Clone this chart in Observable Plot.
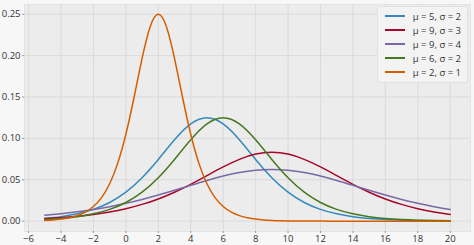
<!DOCTYPE html>
<html><head><meta charset="utf-8">
<script src="https://cdn.jsdelivr.net/npm/d3@7"></script>
<script src="https://cdn.jsdelivr.net/npm/@observablehq/plot@0.6"></script>
<style>
body{margin:0;background:#f7f7f7;font-family:"Open Sans","Noto Sans",sans-serif;}
#wrap{position:relative;width:474px;height:245px;}
#legend{position:absolute;right:6px;top:6px;background:#f3f3f3;border:1px solid #e2e2e2;border-radius:2px;padding:2px 6px 3px 7px;font-size:9.5px;color:#333;}
#legend .row{display:flex;align-items:center;height:14px;}
#legend .sw{flex:none;display:block;width:20px;height:2px;margin-right:8px;}
</style></head>
<body><div id="wrap"><div id="legend"></div></div>
<script>
const xInt = [-5,-4,-3,-2,-1,0,1,2,3,4,5,6,7,8,9,10,11,12,13,14,15,16,17,18,19,20];
const xOrange = [-5,-4.5,-4,-3.5,-3,-2.5,-2,-1.5,-1,-0.5,0,0.5,1,1.5,2,2.5,3,3.5,4,4.5,5,5.5,6,6.5,7,7.5,8,8.5,9,9.5,10,10.5,11,11.5,12,13,14,15,16,17,18,19,20];
const labels = ["μ = 5, σ = 2","μ = 9, σ = 3","μ = 9, σ = 4","μ = 6, σ = 2","μ = 2, σ = 1"];
const colors = ["#348ABD","#A60628","#7A68A6","#467821","#D55E00"];
const blue = [0.003324,0.005433,0.008832,0.014227,0.022589,0.035052,0.052497,0.074573,0.098306,0.117502,0.125,0.117502,0.098306,0.074573,0.052497,0.035052,0.022589,0.014227,0.008832,0.005433,0.003324,0.002027,0.001234,0.000750,0.000455,0.000277];
const red = [0.003076,0.004262,0.005888,0.008101,0.011086,0.015059,0.020249,0.026862,0.034998,0.044543,0.055031,0.065537,0.074720,0.081061,0.083333,0.081061,0.074720,0.065537,0.055031,0.044543,0.034998,0.026862,0.020249,0.015059,0.011086,0.008101];
const purple = [0.007113,0.008984,0.011294,0.014119,0.017526,0.021565,0.026249,0.031533,0.037287,0.043276,0.049153,0.054474,0.058751,0.061534,0.0625,0.061534,0.058751,0.054474,0.049153,0.043276,0.037287,0.031533,0.026249,0.021565,0.017526,0.014119];
const green = [0.002027,0.003324,0.005433,0.008832,0.014227,0.022589,0.035052,0.052497,0.074573,0.098306,0.117502,0.125,0.117502,0.098306,0.074573,0.052497,0.035052,0.022589,0.014227,0.008832,0.005433,0.003324,0.002027,0.001234,0.000750,0.000455];
const orange = [0.000910,0.001499,0.002467,0.004054,0.006648,0.010866,0.017663,0.028453,0.045177,0.070104,0.104994,0.149146,0.196612,0.235004,0.25,0.235004,0.196612,0.149146,0.104994,0.070104,0.045177,0.028453,0.017663,0.010866,0.006648,0.004054,0.002467,0.001499,0.000910,0.000553,0.000335,0.000203,0.000123,0.000075,0.000045,0.000017,0.000006,0.000002,0.000001,0,0,0,0];
const xTicks = [-6,-4,-2,0,2,4,6,8,10,12,14,16,18,20];
const yTicks = [0,0.05,0.10,0.15,0.20,0.25];

const seriesY = [blue, red, purple, green, orange];
const seriesX = [xInt, xInt, xInt, xInt, xOrange];
const data = [];
seriesY.forEach((ys, i) => ys.forEach((y, j) => data.push({x: seriesX[i][j], y, s: labels[i]})));

const chart = Plot.plot({
  width: 474, height: 245,
  marginLeft: 24, marginRight: 4, marginTop: 4, marginBottom: 14,
  style: {background: "transparent", fontFamily: "'Open Sans','Noto Sans',sans-serif", fontSize: "9.5px", color: "#333"},
  x: {domain: [-6.25, 21.25], ticks: xTicks, tickSize: 2, tickPadding: 2, label: null},
  y: {domain: [-0.0125, 0.2618], ticks: yTicks, tickFormat: d3.format(".2f"), tickSize: 2, tickPadding: 2, label: null},
  color: {domain: labels, range: colors},
  marks: [
    Plot.frame({fill: "#ececec", stroke: "#e4e4e4"}),
    Plot.gridX(xTicks, {stroke: "#d6d6d6", strokeOpacity: 1, strokeWidth: 0.8}),
    Plot.gridY(yTicks, {stroke: "#d6d6d6", strokeOpacity: 1, strokeWidth: 0.8}),
    Plot.axisX(xTicks, {tickSize: 2, stroke: "#999", tickPadding: 2, fill: "#333"}),
    Plot.axisY(yTicks, {tickSize: 2, stroke: "#999", tickPadding: 2, tickFormat: d3.format(".2f"), fill: "#333"}),
    Plot.line(data, {x: "x", y: "y", z: "s", stroke: "s", strokeWidth: 1.5, curve: "natural"})
  ]
});
const wrap = document.getElementById("wrap");
wrap.insertBefore(chart, wrap.firstChild);
const lg = document.getElementById("legend");
labels.forEach((l, i) => {
  const r = document.createElement("div"); r.className = "row";
  const sw = document.createElement("span"); sw.className = "sw"; sw.style.background = colors[i];
  const t = document.createElement("span"); t.textContent = l;
  r.appendChild(sw); r.appendChild(t); lg.appendChild(r);
});
</script></body></html>
